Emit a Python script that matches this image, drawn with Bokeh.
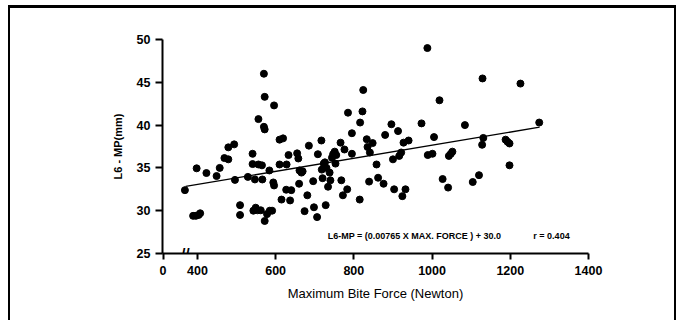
from bokeh.plotting import figure
from bokeh.models import Range1d, FixedTicker, Label
from bokeh.embed import file_html
from bokeh.resources import INLINE

# ---- data ----
bite_force = [368, 389, 396, 403, 407, 398, 423, 449, 457, 469, 479, 479, 494, 496,
              509, 509, 529, 541, 541, 547, 543, 549, 554, 562, 556, 556, 565, 566,
              570, 572, 570, 572, 572, 578, 585, 591, 584, 596, 596, 594, 610, 619,
              610, 615, 627, 628, 633, 637, 640, 655, 658, 660, 661, 666, 669, 674,
              681, 685, 696, 698, 706, 708, 717, 718, 720, 723, 726, 728, 730, 734,
              738, 740, 744, 747, 751, 753, 755, 766, 768, 772, 776, 783, 785, 795,
              795, 815, 816, 822, 824, 833, 835, 839, 841, 848, 858, 862, 876, 880,
              896, 900, 903, 913, 916, 921, 924, 927, 932, 940, 973, 988, 989, 1001,
              1005, 1019, 1027, 1041, 1043, 1048, 1052, 1084, 1104, 1120, 1128, 1129,
              1131, 1188, 1193, 1198, 1198, 1226, 1274]
l6_mp = [32.4, 29.4, 29.4, 29.5, 29.7, 34.95, 34.4, 34.05, 35.0, 36.15, 36.0, 37.4, 37.75, 33.6,
         30.65, 29.5, 33.95, 36.65, 35.45, 33.65, 30.0, 30.35, 30.05, 30.05, 40.7, 35.4, 35.3, 33.65,
         46.0, 43.3, 39.8, 39.5, 28.8, 29.6, 30.0, 30.0, 34.7, 42.3, 32.95, 33.3, 38.3, 38.45,
         35.4, 31.3, 32.45, 35.4, 36.5, 31.2, 32.4, 36.7, 36.1, 33.15, 34.7, 34.45, 34.6, 29.95,
         31.8, 37.6, 33.45, 30.4, 29.25, 36.6, 38.2, 34.8, 33.8, 35.5, 35.65, 30.65, 35.0, 32.8,
         34.45, 33.55, 36.2, 36.6, 36.9, 35.5, 36.5, 37.95, 33.55, 31.8, 37.15, 32.5, 41.45, 39.05,
         36.65, 31.3, 40.3, 41.6, 44.1, 38.35, 37.45, 33.4, 36.8, 37.9, 35.4, 33.85, 33.15, 38.85,
         40.1, 36.0, 32.5, 39.3, 36.4, 36.8, 31.7, 37.95, 32.5, 38.2, 40.2, 49.0, 36.5, 36.65,
         38.6, 42.9, 33.7, 32.7, 36.4, 36.65, 36.9, 40.0, 33.35, 34.15, 37.7, 45.45,
         38.5, 38.3, 38.05, 37.85, 35.3, 44.85, 40.3]
origin_tick = 312            # broken axis: origin is labelled "0"
x_ticks = [origin_tick, 400, 600, 800, 1000, 1200, 1400]
x_tick_labels = {origin_tick: "0"}
y_ticks = [25, 30, 35, 40, 45, 50]
fit_slope = 0.00765
fit_intercept = 30.0
fit_x = [370, 1275]
fit_y = [fit_slope * v + fit_intercept for v in fit_x]
x_start, x_end = 310.7, 1400
y_start, y_end = 25, 50

FONT = "Liberation Sans"

p = figure(width=684, height=320,
           x_range=Range1d(x_start, x_end), y_range=Range1d(y_start, y_end),
           output_backend="svg", toolbar_location=None,
           min_border_left=162, min_border_right=96,
           min_border_top=39, min_border_bottom=67)
p.border_fill_color = None
p.background_fill_color = None
p.outline_line_color = None
p.xgrid.visible = False
p.ygrid.visible = False
# outer frame of the figure (top, left, right edges)
p.styles = {"box-shadow": ("inset 0 5px 0 0 #fff, inset 8px 0 0 0 #fff, inset -8px 0 0 0 #fff, "
                           "inset 0 8px 0 0 #000, inset 10px 0 0 0 #000, inset -10px 0 0 0 #000")}

for ax in (p.xaxis[0], p.yaxis[0]):
    ax.axis_line_width = 2
    ax.axis_line_color = "black"
    ax.major_tick_line_width = 2
    ax.major_tick_line_color = "black"
    ax.minor_tick_line_color = None
    ax.major_tick_in = 0
    ax.major_label_text_font = FONT
    ax.major_label_text_font_size = "12.5px"
    ax.major_label_text_font_style = "bold"
    ax.major_label_text_color = "black"
    ax.axis_label_text_color = "black"
    ax.axis_label_text_font = FONT

p.xaxis.ticker = FixedTicker(ticks=x_ticks)
p.xaxis.major_label_overrides = x_tick_labels
p.yaxis.ticker = FixedTicker(ticks=y_ticks)
p.xaxis.major_tick_out = 6
p.yaxis.major_tick_out = 7
p.xaxis.major_label_standoff = 6
p.yaxis.major_label_standoff = 5

p.xaxis.axis_label = "Maximum Bite Force (Newton)"
p.xaxis.axis_label_text_font_size = "13px"
p.xaxis.axis_label_text_font_style = "normal"
p.xaxis.axis_label_standoff = 8

p.yaxis.axis_label = "L6 - MP(mm)"
p.yaxis.axis_label_text_font_size = "11px"
p.yaxis.axis_label_text_font_style = "bold"
p.yaxis.axis_label_standoff = 10
p.yaxis.axis_label_text_align = "left"

# regression line and points
p.line(fit_x, fit_y, line_color="black", line_width=1.3)
p.scatter(bite_force, l6_mp, size=7, marker="circle",
          fill_color="black", line_color="black")

# axis break marker
p.add_layout(Label(x=369.5, y=y_start, text="//", text_align="center",
                   text_baseline="middle", text_font=FONT, text_font_size="15px",
                   text_font_style="bold", text_color="black"))

# equation annotation
p.add_layout(Label(x=733, y=27.1, text="L6-MP = (0.00765 X MAX. FORCE ) + 30.0",
                   text_align="left", text_baseline="middle", text_font=FONT,
                   text_font_size="9px", text_font_style="bold", text_color="black"))
p.add_layout(Label(x=1259, y=27.1, text="r = 0.404",
                   text_align="left", text_baseline="middle", text_font=FONT,
                   text_font_size="9px", text_font_style="bold", text_color="black"))

open("out.html", "w").write(file_html(p, INLINE))
